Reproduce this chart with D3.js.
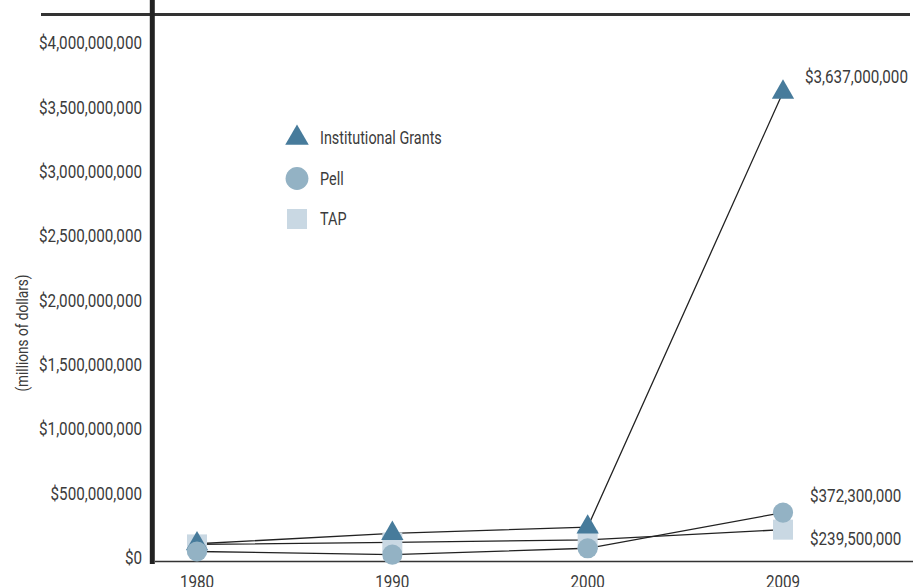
<!DOCTYPE html>
<html>
<head>
<meta charset="utf-8">
<script src="https://cdn.jsdelivr.net/npm/d3@7"></script>
<style>
  body { margin: 0; background: #fff; }
  svg { display: block; }
</style>
</head>
<body>
<div id="chart"></div>
<script>
// chart data (dollars)
const years = ["1980", "1990", "2000", "2009"];
const institutional = [130000000, 210000000, 260000000, 3637000000];
const pell = [70000000, 45000000, 95000000, 372300000];
const tap = [125000000, 140000000, 160000000, 239500000];
const yTicks = [0, 500000000, 1000000000, 1500000000, 2000000000, 2500000000, 3000000000, 3500000000, 4000000000];
const seriesNames = ["Institutional Grants", "Pell", "TAP"];
const endLabels = ["$3,637,000,000", "$372,300,000", "$239,500,000"];

const width = 918;
const height = 587;
const font = "'Liberation Sans Narrow', 'Arial Narrow', 'Roboto', sans-serif";
const textColor = "#3b3b3b";
// the original uses a condensed face, squeeze Roboto a bit
const squeeze = 0.8;

const colors = {
  "Institutional Grants": "#477b9b",
  "Pell": "#93b2c4",
  "TAP": "#c9d8e3"
};

const svg = d3
  .select("#chart")
  .append("svg")
  .attr("width", width)
  .attr("height", height)
  .style("font-family", font);

const x = d3.scalePoint().domain(years).range([197, 783]);
const y = d3.scaleLinear().domain([0, 4000000000]).range([560.5, 45.5]);

function condense(sel) {
  sel.each(function () {
    const len = this.getComputedTextLength();
    d3.select(this)
      .attr("textLength", len * squeeze)
      .attr("lengthAdjust", "spacingAndGlyphs");
  });
}

// build series from the arrays
const series = [
  { name: seriesNames[0], values: institutional, symbol: d3.symbolTriangle, size: 215 },
  { name: seriesNames[1], values: pell, symbol: d3.symbolCircle, size: 320 },
  { name: seriesNames[2], values: tap, symbol: d3.symbolSquare, size: 400 }
];

// frame lines
svg.append("line")
  .attr("x1", 41).attr("x2", 910)
  .attr("y1", 14.5).attr("y2", 14.5)
  .attr("stroke", "#333").attr("stroke-width", 3);

svg.append("line")
  .attr("x1", 155).attr("x2", 913)
  .attr("y1", y(0) + 1).attr("y2", y(0) + 1)
  .attr("stroke", "#333").attr("stroke-width", 1.5);

svg.append("line")
  .attr("x1", 152.3).attr("x2", 152.3)
  .attr("y1", 0).attr("y2", 564)
  .attr("stroke", "#222").attr("stroke-width", 5);

// y tick labels
svg.append("g")
  .selectAll("text")
  .data(yTicks)
  .enter()
  .append("text")
  .attr("x", 142)
  .attr("y", (d) => y(d) - 3)
  .attr("dy", "0.35em")
  .attr("text-anchor", "end")
  .style("font-size", "19px")
  .attr("fill", textColor)
  .text((d) => "$" + d3.format(",")(d))
  .call(condense);

// y title
svg.append("text")
  .attr("transform", "translate(28,333) rotate(-90)")
  .attr("text-anchor", "middle")
  .style("font-size", "17px")
  .attr("fill", textColor)
  .text("(millions of dollars)")
  .call(condense);

// x tick labels
svg.append("g")
  .selectAll("text")
  .data(years)
  .enter()
  .append("text")
  .attr("x", (d) => x(d))
  .attr("y", 588)
  .attr("text-anchor", "middle")
  .style("font-size", "19px")
  .attr("fill", textColor)
  .text((d) => d)
  .call(condense);

// lines
const line = d3.line()
  .x((d, i) => x(years[i]))
  .y((d) => y(d));

svg.append("g")
  .selectAll("path")
  .data(series)
  .enter()
  .append("path")
  .attr("d", (s) => line(s.values))
  .attr("fill", "none")
  .attr("stroke", "#222")
  .attr("stroke-width", 1.3);

// markers: TAP under, then triangles, then circles on top
const drawOrder = [series[2], series[0], series[1]];
drawOrder.forEach((s) => {
  svg.append("g")
    .selectAll("path")
    .data(s.values)
    .enter()
    .append("path")
    .attr("transform", (d, i) => `translate(${x(years[i])},${y(d)})`)
    .attr("d", d3.symbol().type(s.symbol).size(s.size))
    .attr("fill", colors[s.name]);
});

// end labels for 2009
const labelOffsets = [[22, -16], [27, -17], [27, 9]];
series.forEach((s, i) => {
  const last = s.values[s.values.length - 1];
  svg.append("text")
    .attr("x", x(years[years.length - 1]) + labelOffsets[i][0])
    .attr("y", y(last) + labelOffsets[i][1])
    .attr("dy", "0.35em")
    .style("font-size", "19px")
    .attr("fill", textColor)
    .text(endLabels[i])
    .call(condense);
});

// legend
const legend = svg.append("g").attr("transform", "translate(297,138)");
const legendItems = [
  { name: seriesNames[0], symbol: d3.symbolTriangle, size: 240 },
  { name: seriesNames[1], symbol: d3.symbolCircle, size: 410 },
  { name: seriesNames[2], symbol: d3.symbolSquare, size: 400 }
];

const item = legend
  .selectAll("g")
  .data(legendItems)
  .enter()
  .append("g")
  .attr("transform", (d, i) => `translate(0,${i * 40.5})`);

item.append("path")
  .attr("d", (d) => d3.symbol().type(d.symbol).size(d.size)())
  .attr("fill", (d) => colors[d.name]);

item.append("text")
  .attr("x", 23)
  .attr("dy", "0.35em")
  .style("font-size", "18px")
  .attr("fill", textColor)
  .text((d) => d.name)
  .call(condense);
</script>
</body>
</html>
